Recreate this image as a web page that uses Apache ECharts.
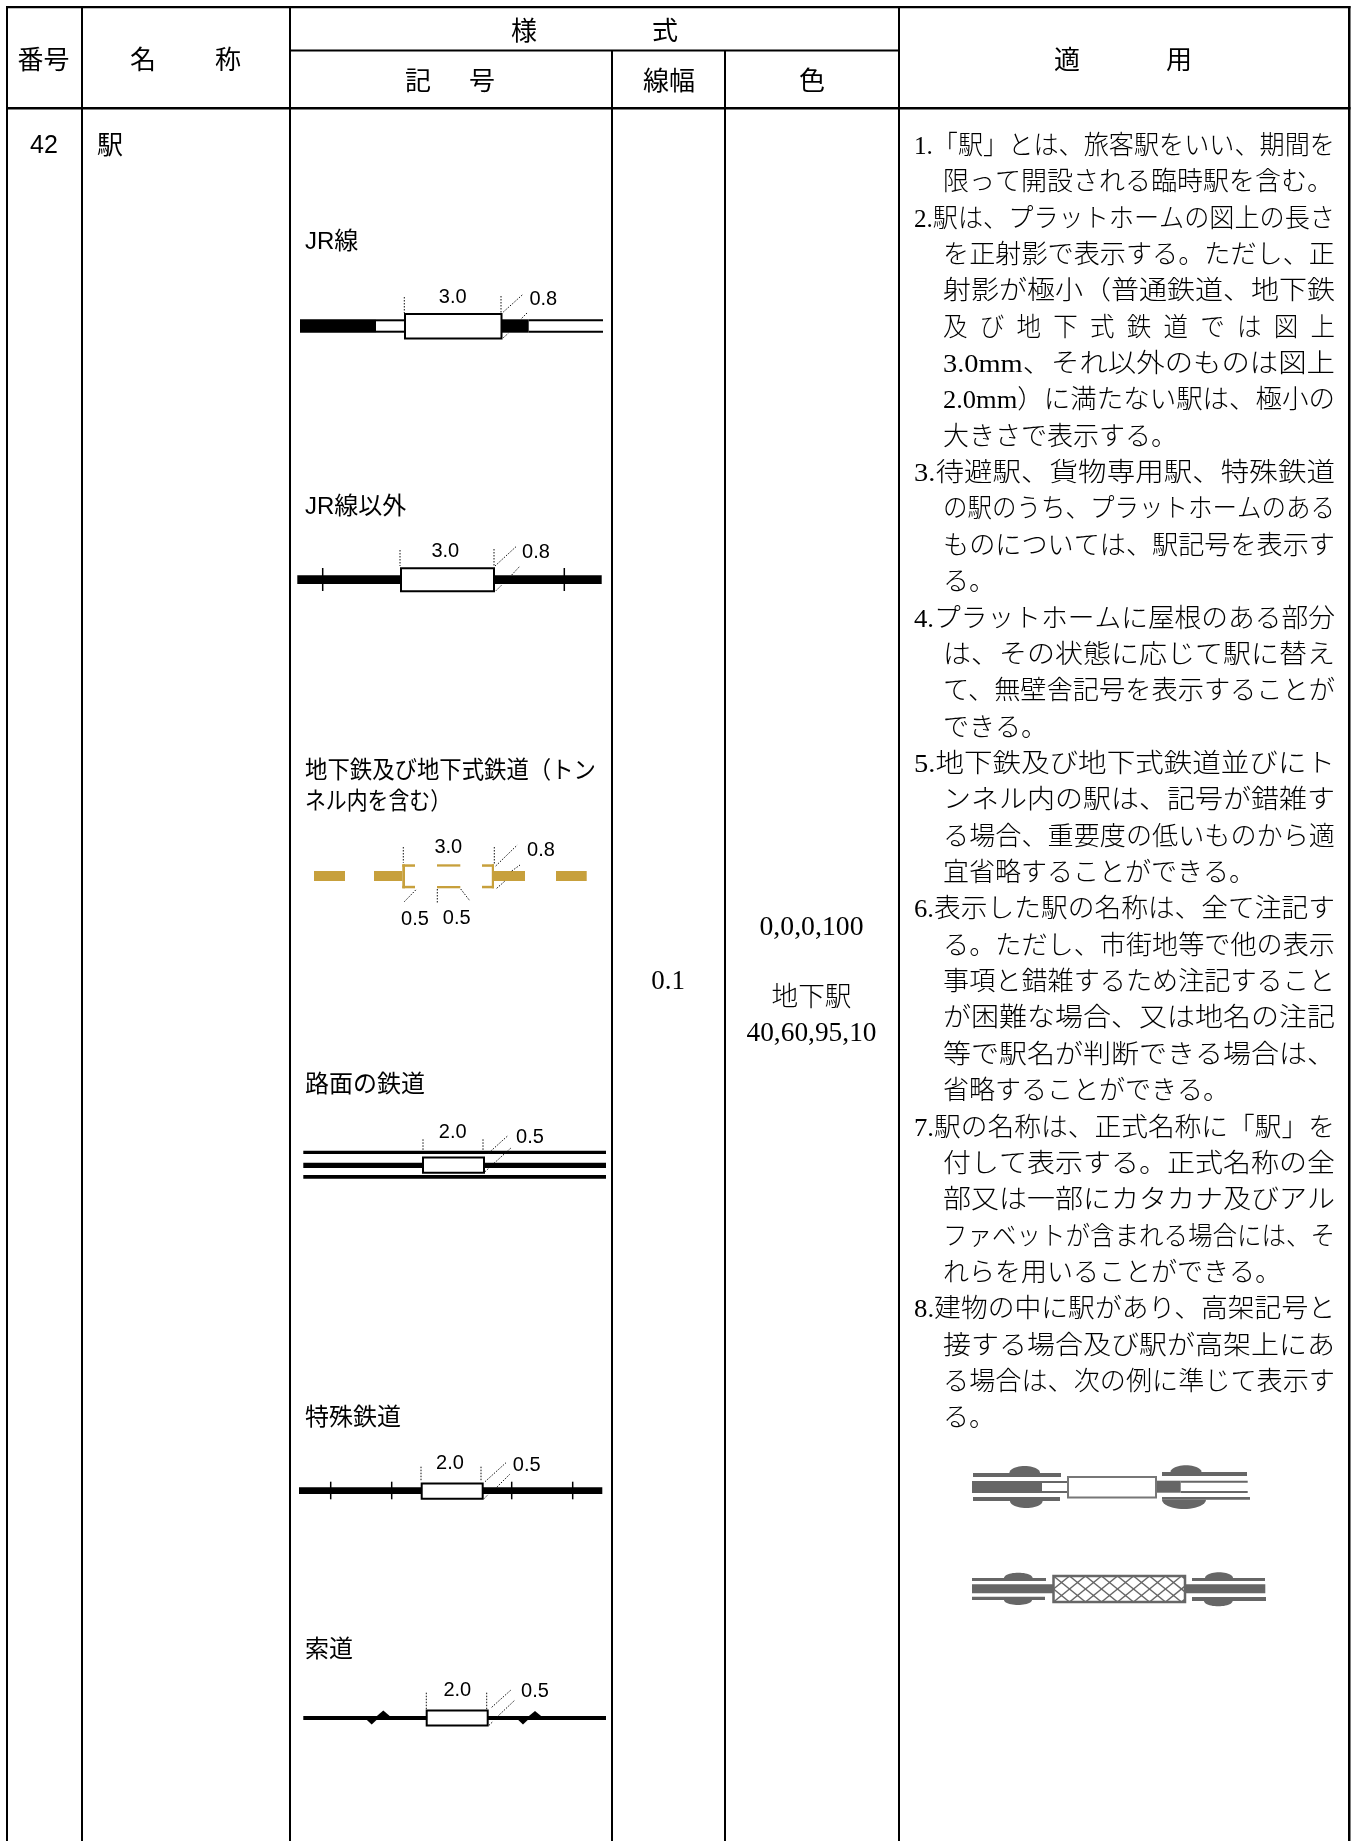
<!DOCTYPE html>
<html>
<head>
<meta charset="utf-8">
<title>駅</title>
<style>
  html, body { margin: 0; padding: 0; background: #fff; }
  #chart_table { width: 1356px; height: 1841px; }
</style>
<script src="https://cdn.jsdelivr.net/npm/echarts@6/dist/echarts.min.js"></script>
</head>
<body>
<div id="chart_table"></div>
<script>
// cell texts
var headerLabels = ["番号", "名", "称", "様", "式", "記", "号", "線幅", "色", "適", "用"];
var rowNumber = "42";
var rowName = "駅";
var lineWidthValue = "0.1";
var colorValues = ["0,0,0,100", "地下駅", "40,60,95,10"];
var symbolLabels = ["JR線", "JR線以外", "地下鉄及び地下式鉄道（トン", "ネル内を含む）", "路面の鉄道", "特殊鉄道", "索道"];
var symbolSizes = ["3.0", "0.8", "3.0", "0.8", "3.0", "0.8", "0.5", "0.5", "2.0", "0.5", "2.0", "0.5", "2.0", "0.5"];
var rules = [
  ["1.「駅」とは、旅客駅をいい、期間を", "限って開設される臨時駅を含む。"],
  ["2.駅は、プラットホームの図上の長さ", "を正射影で表示する。ただし、正", "射影が極小（普通鉄道、地下鉄", "及び地下式鉄道では図上", "3.0mm、それ以外のものは図上", "2.0mm）に満たない駅は、極小の", "大きさで表示する。"],
  ["3.待避駅、貨物専用駅、特殊鉄道", "の駅のうち、プラットホームのある", "ものについては、駅記号を表示す", "る。"],
  ["4.プラットホームに屋根のある部分", "は、その状態に応じて駅に替え", "て、無壁舎記号を表示することが", "できる。"],
  ["5.地下鉄及び地下式鉄道並びにト", "ンネル内の駅は、記号が錯雑す", "る場合、重要度の低いものから適", "宜省略することができる。"],
  ["6.表示した駅の名称は、全て注記す", "る。ただし、市街地等で他の表示", "事項と錯雑するため注記すること", "が困難な場合、又は地名の注記", "等で駅名が判断できる場合は、", "省略することができる。"],
  ["7.駅の名称は、正式名称に「駅」を", "付して表示する。正式名称の全", "部又は一部にカタカナ及びアル", "ファベットが含まれる場合には、そ", "れらを用いることができる。"],
  ["8.建物の中に駅があり、高架記号と", "接する場合及び駅が高架上にあ", "る場合は、次の例に準じて表示す", "る。"]
];

var HEAD_FONT = '26px "Noto Sans CJK JP"';
var LABEL_FONT = '24px "Liberation Sans","Noto Sans CJK JP"';
var SIZE_FONT = '20px "Liberation Sans"';
var BODY_FONT = '300 26px "Liberation Serif","Noto Sans CJK JP"';
var COLOR_FONT = '300 27px "Liberation Serif","Noto Sans CJK JP"';
var BLACK = "#000";
var BROWN = "#c7a03c";
var GRAY = "#666";
var DOT = "#111";

var shapes = [];
var measure = document.createElement("canvas").getContext("2d");

function rect(x0, y0, x1, y1, fill, stroke, lw) {
  shapes.push({ t: "rect", p: [[x0, y0], [x1, y1]], fill: fill, stroke: stroke, lw: lw });
}
function seg(x0, y0, x1, y1, color, lw, dash) {
  shapes.push({ t: "line", p: [[x0, y0], [x1, y1]], stroke: color, lw: lw, dash: dash });
}
function poly(points, fill) {
  shapes.push({ t: "polygon", p: points, fill: fill });
}
function dots(list) {
  list.forEach(function(d) {
    seg(d[0], d[1], d[2], d[3], DOT, 1, [1.5, 1.5]);
  });
}
function box(x0, y0, x1, y1) {
  rect(x0, y0, x1, y1, "#fff", BLACK, 2);
}
function halfEllipse(cx, cy, rx, ry, dir, fill) {
  var pts = [];
  for (var i = 0; i <= 24; i++) {
    var a = (Math.PI * i) / 24;
    pts.push([cx + rx * Math.cos(a), cy + dir * ry * Math.sin(a)]);
  }
  poly(pts, fill);
}

// even spaces per gap when a line is far too short, the rest is a small stretch
function fitText(text, font, width) {
  measure.font = font;
  var extra = width - measure.measureText(text).width;
  var out = text;
  if (extra > 0) {
    var perGap = Math.round(extra / measure.measureText(" ").width / (text.length - 1));
    if (perGap > 0) {
      out = text.split("").join(" ".repeat(perGap));
    }
  }
  return { text: out, scale: width / measure.measureText(out).width };
}
function label(str, x, y, font, align, width) {
  var f = width ? fitText(str, font, width) : { text: str, scale: 1 };
  shapes.push({ t: "text", p: [[x, y]], text: f.text, scale: f.scale, font: font, align: align || "center" });
}

// table rules
rect(6, 6, 8, 1841, BLACK);
rect(81, 6, 83, 1841, BLACK);
rect(289, 6, 291, 1841, BLACK);
rect(611, 50, 613, 1841, BLACK);
rect(724, 50, 726, 1841, BLACK);
rect(898, 6, 900, 1841, BLACK);
rect(1348, 6, 1350.5, 1841, BLACK);
rect(6, 6, 1350.5, 8.2, BLACK);
rect(289, 49.5, 899, 51.5, BLACK);
rect(6, 107, 1350.5, 109.5, BLACK);

// header and row cells
var headerPlace = [[43.5, 59], [143, 59], [228, 59], [524, 30], [665, 30], [418, 80], [482, 80], [669, 80], [812, 80], [1067, 59], [1179, 59]];
headerLabels.forEach(function(s, i) {
  label(s, headerPlace[i][0], headerPlace[i][1], HEAD_FONT);
});
label(rowNumber, 44, 146, '25px "Liberation Sans"');
label(rowName, 110, 144, HEAD_FONT);
label(lineWidthValue, 668, 982, COLOR_FONT);
label(colorValues[0], 811.5, 928, COLOR_FONT, "center", 104);
label(colorValues[1], 811.5, 998.5, COLOR_FONT, "center", 80);
label(colorValues[2], 811.5, 1034, COLOR_FONT, "center", 130);

// rule column
var ruleRow = 0;
rules.forEach(function(lines) {
  lines.forEach(function(s, i) {
    var y = 147 + 36.36 * ruleRow;
    var x = i === 0 ? 914 : 943;
    label(s, x, y, BODY_FONT, "left", i === lines.length - 1 ? 0 : 1335 - x);
    ruleRow++;
  });
});

// symbol names
label(symbolLabels[0], 305, 242, LABEL_FONT, "left");
label(symbolLabels[1], 305, 507, LABEL_FONT, "left");
label(symbolLabels[2], 305, 771, LABEL_FONT, "left", 291);
label(symbolLabels[3], 305, 802.5, LABEL_FONT, "left", 146);
label(symbolLabels[4], 305, 1085, LABEL_FONT, "left");
label(symbolLabels[5], 305, 1418, LABEL_FONT, "left");
label(symbolLabels[6], 305, 1650, LABEL_FONT, "left");

// JR
rect(300, 319.3, 376, 332.7, BLACK);
rect(376, 319.3, 405, 321.3, BLACK);
rect(376, 330.7, 405, 332.7, BLACK);
rect(501.7, 319.3, 528.7, 332.7, BLACK);
rect(528.7, 319.3, 603, 321.3, BLACK);
rect(528.7, 330.7, 603, 332.7, BLACK);
box(405, 314, 501.5, 338.5);
dots([[404.3, 297, 404.3, 313], [501, 296, 501, 313], [503.3, 312, 523.3, 294], [521.7, 318.3, 527.3, 312.7], [503.3, 337.7, 508.3, 333.3]]);
label(symbolSizes[0], 452.7, 297.3, SIZE_FONT);
label(symbolSizes[1], 543.3, 299.3, SIZE_FONT);

// other lines
rect(297.3, 575.3, 601.7, 584, BLACK);
seg(322.7, 568, 322.7, 591, BLACK, 1.5);
seg(564.3, 568, 564.3, 591, BLACK, 1.5);
box(401, 568.3, 494, 591.3);
dots([[400, 550, 400, 566], [494, 549, 494, 566], [495, 566, 516, 546.7], [511.7, 575, 520, 566], [496, 590.7, 501.7, 585]]);
label(symbolSizes[2], 445.3, 551, SIZE_FONT);
label(symbolSizes[3], 536, 552.6, SIZE_FONT);

// subway
rect(314, 871, 345, 881, BROWN);
rect(374, 871, 402.3, 881, BROWN);
rect(494, 871, 525, 881, BROWN);
rect(556, 871, 586.7, 881, BROWN);
rect(402.3, 864.3, 405, 888.3, BROWN);
rect(402.3, 864.3, 415, 866.8, BROWN);
rect(402.3, 885.8, 415, 888.3, BROWN);
rect(437, 864.3, 460.3, 866.6, BROWN);
rect(437, 886, 460.3, 888.3, BROWN);
rect(482, 864.3, 494, 866.8, BROWN);
rect(482, 885.8, 494, 888.3, BROWN);
rect(491.8, 864.3, 494, 888.3, BROWN);
dots([[403.3, 847, 403.3, 862.7], [494.3, 847, 494.3, 865], [495.7, 866, 517.3, 845], [511.7, 871, 520, 865], [496.7, 888.3, 505, 881],
  [404.3, 901.7, 416.7, 889], [437.3, 889, 437.3, 903.3], [460.7, 889, 470, 901]]);
label(symbolSizes[4], 448.3, 847, SIZE_FONT);
label(symbolSizes[5], 541, 850, SIZE_FONT);
label(symbolSizes[6], 415, 919, SIZE_FONT);
label(symbolSizes[7], 456.7, 918.3, SIZE_FONT);

// street tram
rect(303.3, 1150.7, 606, 1154, BLACK);
rect(303.3, 1162.7, 606, 1168, BLACK);
rect(303.3, 1175, 606, 1178.7, BLACK);
box(423, 1157.5, 484, 1172.7);
dots([[423, 1139.3, 423, 1150.7], [483, 1139.3, 483, 1150.7], [488.3, 1153.3, 508.3, 1135.3], [494, 1163.3, 511.7, 1147.3], [485, 1171.7, 489.3, 1167.7]]);
label(symbolSizes[8], 452.7, 1132.3, SIZE_FONT);
label(symbolSizes[9], 530, 1137, SIZE_FONT);

// special railway
rect(299, 1487.3, 602.3, 1494, BLACK);
[330.7, 391.7, 511.7, 572.7].forEach(function(x) {
  seg(x, 1481.7, x, 1499.3, BLACK, 1.5);
});
box(421.7, 1483.5, 482.7, 1498.7);
dots([[421, 1466.7, 421, 1481.7], [481, 1466.7, 481, 1481.7], [485, 1481.7, 506, 1462.7], [496.7, 1487.3, 510, 1474], [484, 1498.7, 488.3, 1494.3]]);
label(symbolSizes[10], 450, 1463.6, SIZE_FONT);
label(symbolSizes[11], 526.7, 1465, SIZE_FONT);

// ropeway
rect(303.3, 1716, 606, 1720, BLACK);
poly([[366.3, 1719.5], [371.7, 1724.6], [377, 1719.5]], BLACK);
poly([[376.3, 1716.5], [383.3, 1710.6], [390.3, 1716.5]], BLACK);
poly([[517.7, 1719.5], [523, 1724.6], [528.3, 1719.5]], BLACK);
poly([[528.3, 1716.5], [535, 1711], [541.7, 1716.5]], BLACK);
box(426.7, 1710.5, 487.7, 1725.5);
dots([[426.3, 1692.7, 426.3, 1709.3], [486.7, 1692.7, 486.7, 1709.3], [491.7, 1707.3, 511.7, 1689.3], [497.3, 1716.7, 515, 1700], [489, 1725.3, 492.7, 1721.7]]);
label(symbolSizes[12], 457.3, 1690, SIZE_FONT);
label(symbolSizes[13], 535, 1691.7, SIZE_FONT);

// example 1: elevated, plain station
halfEllipse(1024.7, 1473, 15.3, 7, -1, GRAY);
halfEllipse(1026.3, 1501, 16.3, 7, 1, GRAY);
halfEllipse(1186, 1472, 15.5, 6.7, -1, GRAY);
halfEllipse(1184, 1499.7, 22, 9.3, 1, GRAY);
rect(973, 1473, 1061, 1477, GRAY);
rect(973, 1497, 1060, 1501, GRAY);
rect(972, 1481, 1042, 1493, GRAY);
rect(1042, 1481, 1067.5, 1483, GRAY);
rect(1042, 1491, 1067.5, 1493, GRAY);
rect(1156, 1480.7, 1180.7, 1492.7, GRAY);
rect(1180.7, 1480.7, 1247.7, 1482.7, GRAY);
rect(1180.7, 1491, 1247.7, 1493, GRAY);
rect(1162, 1472, 1247, 1476, GRAY);
rect(1162, 1497, 1250, 1499.7, GRAY);
rect(1068, 1477, 1156, 1497.5, "#fff", "#777", 2);

// example 2: station on elevated track
halfEllipse(1018.3, 1578, 14.3, 5.3, -1, GRAY);
halfEllipse(1018, 1600, 14, 5, 1, GRAY);
halfEllipse(1219, 1578, 14, 5.7, -1, GRAY);
halfEllipse(1218.3, 1601, 14.3, 5.3, 1, GRAY);
rect(972, 1578, 1046, 1581, GRAY);
rect(972, 1596.7, 1045, 1600, GRAY);
rect(972, 1584.3, 1053, 1593.3, GRAY);
rect(1185, 1584.3, 1265.3, 1593.3, GRAY);
rect(1192, 1578, 1265, 1581, GRAY);
rect(1192, 1597, 1266, 1601, GRAY);
rect(1053.5, 1576, 1185, 1602, "#fff");
var hatchL = 1053.5, hatchR = 1185, hatchT = 1576, hatchB = 1602, hatchRun = 32;
for (var hx = hatchL - hatchRun; hx < hatchR; hx += 16) {
  var x0 = Math.max(hx, hatchL), x1 = Math.min(hx + hatchRun, hatchR);
  var yA = hatchB - ((x0 - hx) / hatchRun) * (hatchB - hatchT);
  var yB = hatchB - ((x1 - hx) / hatchRun) * (hatchB - hatchT);
  seg(x0, yA, x1, yB, GRAY, 1.5);
  seg(x0, hatchT + hatchB - yA, x1, hatchT + hatchB - yB, GRAY, 1.5);
}
rect(1053.5, 1576, 1185, 1602, "rgba(0,0,0,0)", GRAY, 2.5);

function renderShape(params, api) {
  var s = shapes[params.dataIndex];
  var pts = s.p.map(function(p) {
    return api.coord(p);
  });
  if (s.t === "text") {
    return {
      type: "text",
      x: pts[0][0],
      y: pts[0][1],
      scaleX: s.scale,
      style: { text: s.text, font: s.font, fill: "#000", align: s.align, verticalAlign: "middle" }
    };
  }
  if (s.t === "rect") {
    return {
      type: "rect",
      shape: { x: pts[0][0], y: pts[0][1], width: pts[1][0] - pts[0][0], height: pts[1][1] - pts[0][1] },
      style: { fill: s.fill, stroke: s.stroke, lineWidth: s.lw || 0 }
    };
  }
  if (s.t === "line") {
    return {
      type: "line",
      shape: { x1: pts[0][0], y1: pts[0][1], x2: pts[1][0], y2: pts[1][1] },
      style: { stroke: s.stroke, lineWidth: s.lw, lineDash: s.dash }
    };
  }
  return { type: "polygon", shape: { points: pts }, style: { fill: s.fill } };
}

var myChart = echarts.init(document.getElementById("chart_table"));
myChart.setOption({
  backgroundColor: "#fff",
  animation: false,
  grid: { left: 0, right: 0, top: 0, bottom: 0 },
  xAxis: { type: "value", min: 0, max: 1356, show: false },
  yAxis: { type: "value", min: 0, max: 1841, inverse: true, show: false },
  series: [
    {
      type: "custom",
      coordinateSystem: "cartesian2d",
      silent: true,
      clip: false,
      renderItem: renderShape,
      data: shapes.map(function(s) {
        return s.p[0];
      })
    }
  ]
});
</script>
</body>
</html>
